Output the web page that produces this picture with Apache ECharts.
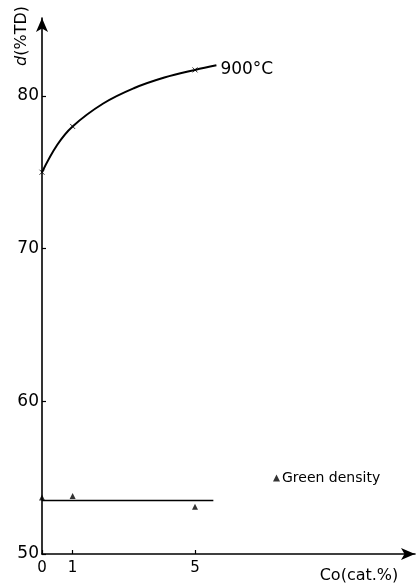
<!DOCTYPE html>
<html><head><meta charset="utf-8">
<script src="https://cdn.jsdelivr.net/npm/echarts@6/dist/echarts.min.js"></script>
<style>html,body{margin:0;padding:0;background:#fff}#c{width:419px;height:584px}</style>
</head><body><div id="c"></div>
<script>
// data
var curveX = [0, 0.5, 1, 2, 3, 4, 5, 5.7];
var curveY = [75, 76.8, 78, 79.5, 80.5, 81.2, 81.7, 82.0];
var markX = [0, 1, 5];
var markY = [75, 78, 81.7];
var greenX = [0, 1, 5];
var greenY = [53.7, 53.8, 53.1];
var greenLineX = [0, 5.6];
var greenLineY = [53.5, 53.5];
var xTicks = [0, 1, 5];
var yTicks = [50, 60, 70, 80];
var curveLabel = '900°C';
var greenName = 'Green density';

var font = 'DejaVu Sans';
var chart = echarts.init(document.getElementById('c'));
function pairs(xs, ys){ return xs.map(function(x,i){return [x, ys[i]];}); }
chart.setOption({
  animation: false,
  backgroundColor: '#fff',
  grid: {left: 42, right: 4, top: 18, bottom: 30},
  legend: {
    data: [{name: greenName, icon: 'triangle'}],
    left: 268, top: 466, itemWidth: 7, itemHeight: 7, itemGap: 2,
    textStyle: {fontFamily: font, fontSize: 14, color: '#000', padding: [0,0,0,-3]}
  },
  xAxis: {
    type: 'value', min: 0, max: 12.19,
    axisLine: {lineStyle: {color: '#000', width: 1.6}, symbol: ['none','arrow'], symbolSize: [9,14]},
    axisTick: {show: true, inside: true, length: 4, lineStyle: {color:'#000', width: 1.2}, customValues: xTicks},
    axisLabel: {customValues: xTicks, color: '#000', fontFamily: font, fontSize: 15, margin: 7},
    splitLine: {show: false}
  },
  yAxis: {
    type: 'value', min: 50, max: 85.1, interval: 10,
    axisLine: {show: true, lineStyle: {color: '#000', width: 1.6}, symbol: ['none','arrow'], symbolSize: [9,14]},
    axisTick: {show: true, inside: true, length: 4, lineStyle: {color:'#000', width: 1.2}, customValues: yTicks},
    axisLabel: {customValues: yTicks, color: '#000', fontFamily: font, fontSize: 17, margin: 3},
    splitLine: {show: false}
  },
  graphic: [
    {type: 'text', x: 22, y: 36, rotation: Math.PI/2,
     style: {text: '{i|d}(%TD)', rich: {i: {fontStyle: 'italic', fontFamily: font, fontSize: 16}},
       fontFamily: font, fontSize: 16, fill: '#000', align: 'center', verticalAlign: 'middle'}},
    {type: 'text', x: 359, y: 576,
     style: {text: 'Co(cat.%)', fontFamily: font, fontSize: 16, fill: '#000', align: 'center', verticalAlign: 'middle'}}
  ],
  series: [
    {type: 'line', data: pairs(curveX, curveY), smooth: 0.4, showSymbol: false, silent: true,
     lineStyle: {color: '#000', width: 2},
     endLabel: {show: true, formatter: curveLabel, color: '#000', fontFamily: font, fontSize: 17, distance: 4, offset: [0, 4]}},
    {type: 'scatter', data: pairs(markX, markY), symbol: 'path://M0,0L10,10M10,0L0,10', symbolSize: 5,
     itemStyle: {color: 'none', borderColor: '#000', borderWidth: 1}},
    {type: 'line', data: pairs(greenLineX, greenLineY), showSymbol: false, silent: true,
     lineStyle: {color: '#000', width: 1.6}},
    {type: 'scatter', name: greenName, data: pairs(greenX, greenY), symbol: 'triangle', symbolSize: 6,
     itemStyle: {color: '#000'}}
  ]
});
</script></body></html>
